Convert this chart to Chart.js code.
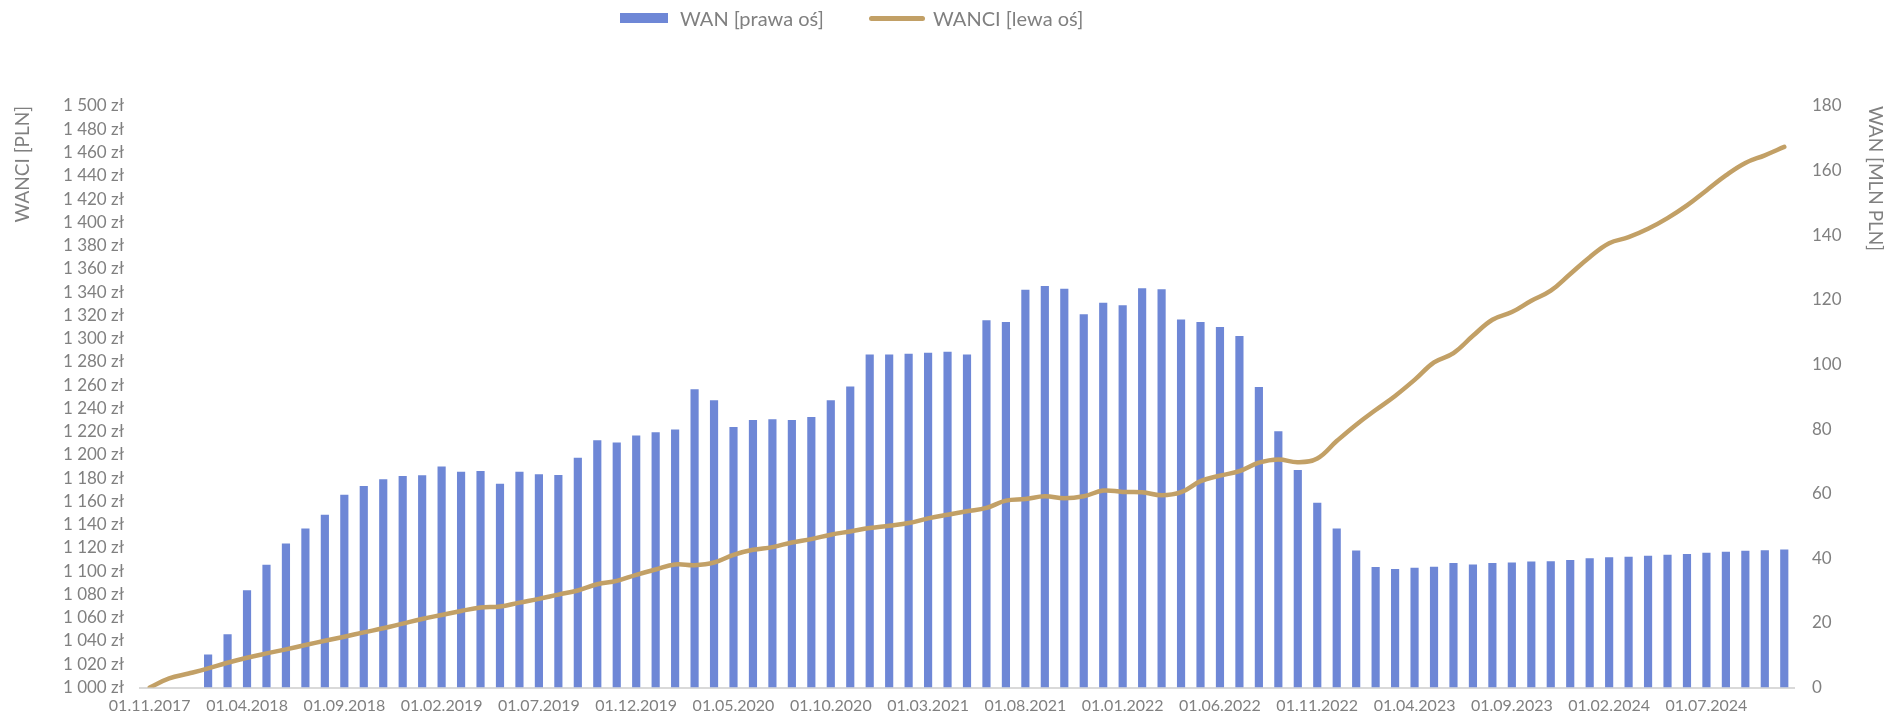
<!DOCTYPE html>
<html lang="pl">
<head>
<meta charset="utf-8">
<title>WAN / WANCI</title>
<script src="https://cdn.jsdelivr.net/npm/chart.js@4.4.1/dist/chart.umd.min.js"></script>
<style>
  html, body { margin: 0; padding: 0; background: #fff; }
  .wrap { position: relative; width: 1888px; height: 716px; }
  .legend-item { position: absolute; font: 400 20px Lato, "Open Sans", sans-serif; color: #808080; line-height: 22px; white-space: nowrap; }
  .swatch-bar { position: absolute; left: 620px; top: 13px; width: 48px; height: 10px; background: #6e87d6; }
  .swatch-line { position: absolute; left: 869px; top: 16px; width: 56px; height: 5px; border-radius: 3px; background: #c2a066; }
</style>
</head>
<body>
<div class="wrap">
  <canvas id="chart" width="1888" height="716"></canvas>
  <div class="swatch-bar"></div>
  <div class="legend-item" style="left:680px; top:7px;">WAN [prawa oś]</div>
  <div class="swatch-line"></div>
  <div class="legend-item" style="left:933px; top:7px;">WANCI [lewa oś]</div>
</div>
<script>
// monthly data, first month 01.11.2017
const startYear = 2017;
const startMonth = 11;

// WAN [mln PLN] - right axis (bars)
const wanValues = [
  null, null, null, 10.2, 16.5, 30.1, 38.0, 44.6, 49.2, 53.5,
  59.7, 62.4, 64.5, 65.5, 65.7, 68.4, 66.8, 67.0, 63.1, 66.8,
  66.0, 65.8, 71.1, 76.5, 75.8, 78.0, 79.0, 79.9, 92.3, 88.9,
  80.6, 82.8, 83.0, 82.8, 83.7, 88.9, 93.2, 103.1, 103.1, 103.3,
  103.6, 103.9, 103.1, 113.7, 113.1, 123.1, 124.3, 123.4, 115.5, 119.1,
  118.3, 123.6, 123.3, 113.9, 113.1, 111.6, 108.8, 93.0, 79.3, 67.3,
  57.2, 49.2, 42.4, 37.3, 36.7, 37.1, 37.4, 38.5, 38.1, 38.5,
  38.7, 39.0, 39.1, 39.5, 40.0, 40.3, 40.5, 40.8, 41.1, 41.3,
  41.7, 42.0, 42.3, 42.5, 42.7
];

// WANCI [PLN] - left axis (line)
const wanciValues = [
  1000, 1007.8, 1012, 1016.4, 1021.3, 1025.6, 1029.3, 1032.8, 1036.5, 1040.2,
  1043.7, 1047.4, 1050.9, 1054.9, 1058.9, 1062.4, 1065.8, 1068.7, 1069.6, 1073,
  1076.2, 1079.9, 1083.4, 1088.8, 1091.7, 1096.9, 1101.5, 1105.8, 1105.2, 1107.5,
  1114.1, 1118.4, 1120.7, 1124.7, 1127.6, 1131.4, 1134.2, 1137.1, 1139.1, 1141.4,
  1145.4, 1148.6, 1151.5, 1154.4, 1160.7, 1162.1, 1164.4, 1162.7, 1164.4, 1169.3,
  1168.2, 1167.9, 1165.3, 1167.9, 1177.4, 1182.2, 1186.0, 1193.3, 1196.1, 1193.7,
  1196.9, 1211.9, 1226, 1238.6, 1250.7, 1264.5, 1279.5, 1287.5, 1302.4, 1316.2,
  1322.8, 1332.6, 1341.2, 1355.6, 1370, 1382, 1387.2, 1394.4, 1403.6, 1414.5,
  1427.4, 1440.3, 1451, 1457.6, 1464.8
];

// category labels "01.MM.YYYY"
const monthLabels = wanValues.map((_, i) => {
  const m = (startMonth - 1 + i) % 12 + 1;
  const y = startYear + Math.floor((startMonth - 1 + i) / 12);
  return `01.${String(m).padStart(2, "0")}.${y}`;
});
const labelEvery = 5;

const leftAxis = { min: 1000, max: 1500, step: 20 };
const rightAxis = { min: 0, max: 180, step: 20 };

const textColor = "#808080";
const fontFamily = "Lato, 'Open Sans', sans-serif";

function formatZl(value) {
  const thousands = Math.floor(value / 1000);
  const rest = String(value % 1000).padStart(3, "0");
  return `${thousands} ${rest} zł`;
}

const ctx = document.getElementById("chart").getContext("2d");

new Chart(ctx, {
  data: {
    labels: monthLabels,
    datasets: [
      {
        type: "line",
        label: "WANCI [lewa oś]",
        data: wanciValues,
        yAxisID: "y",
        borderColor: "#c2a066",
        borderWidth: 4.5,
        borderCapStyle: "round",
        borderJoinStyle: "round",
        tension: 0.4,
        pointRadius: 0,
        order: 0,
      },
      {
        type: "bar",
        label: "WAN [prawa oś]",
        data: wanValues,
        yAxisID: "y1",
        backgroundColor: "#6e87d6",
        categoryPercentage: 1,
        barPercentage: 0.42,
        order: 1,
      },
    ],
  },
  options: {
    responsive: false,
    animation: false,
    layout: { padding: { top: 106, left: 0, right: 0, bottom: 0 } },
    plugins: {
      legend: { display: false },
      tooltip: { enabled: false },
    },
    scales: {
      x: {
        offset: true,
        grid: { display: false, drawTicks: false },
        border: { display: true, color: "#d9d9d9", width: 2 },
        ticks: {
          autoSkip: false,
          maxRotation: 0,
          padding: 9,
          color: textColor,
          font: { family: fontFamily, size: 16 },
          callback: function (value, index) {
            return index % labelEvery === 0 ? this.getLabelForValue(value) : "";
          },
        },
        afterFit: (scale) => { scale.height = 28.5; },
      },
      y: {
        position: "left",
        min: leftAxis.min,
        max: leftAxis.max,
        grid: { display: false, drawTicks: false },
        border: { display: false },
        ticks: {
          stepSize: leftAxis.step,
          autoSkip: false,
          padding: 16,
          color: textColor,
          font: { family: fontFamily, size: 17 },
          callback: (value) => formatZl(value),
        },
        title: {
          display: true,
          text: "WANCI [PLN]",
          align: "end",
          color: textColor,
          padding: { top: 11, bottom: 0 },
          font: { family: fontFamily, size: 19 },
        },
        afterFit: (scale) => { scale.width = 140; },
      },
      y1: {
        position: "right",
        min: rightAxis.min,
        max: rightAxis.max,
        grid: { display: false, drawTicks: false },
        border: { display: false },
        ticks: {
          stepSize: rightAxis.step,
          autoSkip: false,
          padding: 18,
          color: textColor,
          font: { family: fontFamily, size: 17 },
        },
        title: {
          display: true,
          text: "WAN [MLN PLN]",
          align: "end",
          color: textColor,
          padding: { top: 1, bottom: 0 },
          font: { family: fontFamily, size: 19 },
        },
        afterFit: (scale) => { scale.width = 94; },
      },
    },
  },
});
</script>
</body>
</html>
